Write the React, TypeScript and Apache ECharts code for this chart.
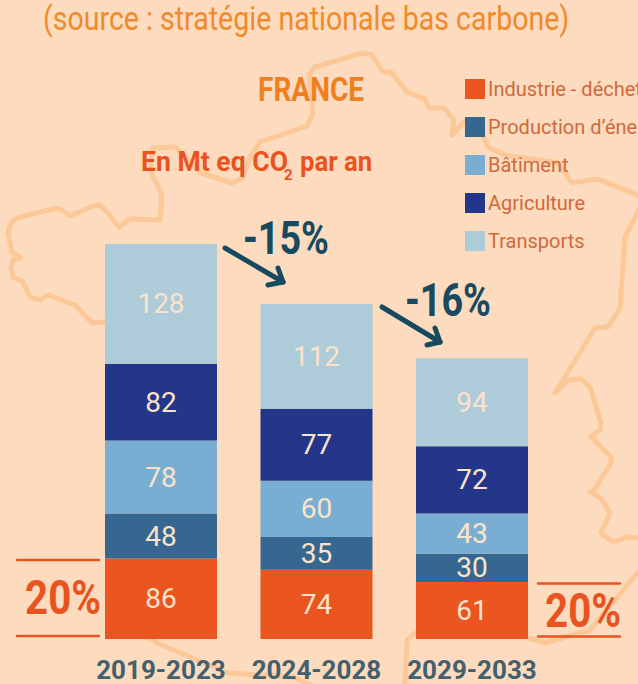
import React, { useEffect, useRef } from "react";
import * as echarts from "echarts";

const categories = ["2019-2023", "2024-2028", "2029-2033"];
const industrie = [86, 74, 61];
const production = [48, 35, 30];
const batiment = [78, 60, 43];
const agriculture = [82, 77, 72];
const transports = [128, 112, 94];
const seriesNames = ["Industrie - déchets", "Production d’énergie", "Bâtiment", "Agriculture", "Transports"];
const colors = ["#ea5520", "#356791", "#79aed2", "#233689", "#aecbda"];

const mapMain = [[313,686],[293,677],[228,673],[157,643],[151,639],[105,622]];
const mapWest = [[105,322],[93,323],[87,318],[75,305],[48,295],[40,300],[30,297],[23,282],[13,277],[11,268],[13,260],[21,258],[12,252],[8,233],[11,223],[17,218],[57,208],[63,211],[70,216],[93,206],[100,205],[107,212],[119,227],[130,219],[160,220],[162,195],[150,170],[153,148],[175,147],[201,173],[232,183],[243,178],[250,157],[260,142],[307,126],[313,113],[309,75],[315,67],[362,53],[372,55],[383,72],[391,72],[407,92],[425,99],[429,108],[444,108],[454,120],[452,135],[464,122],[484,137],[488,147],[505,155],[558,163],[572,183],[598,179],[640,196]];
const mapEast = [[640,208],[625,237],[620,308],[608,327],[595,328],[555,393],[568,380],[581,379],[590,387],[601,423],[600,430],[591,437],[611,457],[611,463],[593,492],[590,492],[601,498],[610,513],[601,533],[613,542],[628,537],[640,538]];
const mapSouth = [[640,570],[590,630],[545,643],[528,638]];
const mapCenter = [[416,632],[407,640],[405,686]];

const FONT = 'Roboto, sans-serif';

function txt(text: string, x: number, y: number, size: number, color: string, bold = false, sx = 1) {
  return { type: "text", x, y, scaleX: sx, z: 50, style: { text, fill: color, fontFamily: FONT, fontSize: size, fontWeight: bold ? 700 : 400, textAlign: "left", textVerticalAlign: "middle" } };
}
function line(x1: number, y1: number, x2: number, y2: number, c: string, w: number) {
  return { type: "line", z: 50, shape: { x1, y1, x2, y2 }, style: { stroke: c, lineWidth: w, lineCap: "round" } };
}
function map(points: number[][]) {
  return { type: "polyline", z: 0, shape: { points }, style: { stroke: "#fcc898", lineWidth: 5, fill: "none", lineJoin: "round" } };
}

export default function App() {
  const ref = useRef<HTMLDivElement>(null);
  useEffect(() => {
    document.body.style.margin = "0";
    const chart = echarts.init(ref.current!, undefined, { renderer: "svg" });
    const values = [industrie, production, batiment, agriculture, transports];
    const teal = "#17495f";
    const red = "#e9531f";
    chart.setOption({
      animation: false,
      backgroundColor: "#fddbbe",
      grid: { left: 83.25, right: 88.25, top: 244, bottom: 45 },
      xAxis: {
        type: "category",
        data: categories,
        axisLine: { show: false },
        axisTick: { show: false },
        axisLabel: { color: "#42606f", fontFamily: FONT, fontWeight: 700, fontSize: 26, margin: 18, interval: 0, hideOverlap: false },
      },
      yAxis: { type: "value", min: 0, max: 422, show: false, splitLine: { show: false } },
      legend: {
        left: 465,
        top: 79,
        padding: 0,
        orient: "vertical",
        itemWidth: 20,
        itemHeight: 20,
        itemGap: 18,
        icon: "rect",
        selectedMode: false,
        textStyle: { color: "#cf6a3d", fontFamily: FONT, fontSize: 20, lineHeight: 20, padding: [0, 0, 0, -2] },
        data: seriesNames,
      },
      series: seriesNames.map((name, i) => ({
        name,
        type: "bar",
        stack: "total",
        barWidth: 112,
        z: 5,
        data: values[i],
        itemStyle: { color: colors[i] },
        label: { show: true, position: "inside", color: "#fbe3cb", fontFamily: FONT, fontSize: 28 },
      })),
      graphic: [
        map(mapMain), map(mapWest), map(mapEast), map(mapSouth), map(mapCenter),
        txt("(source : stratégie nationale bas carbone)", 43, 19, 33, "#f08a2a", false, 0.865),
        txt("FRANCE", 258, 90, 33, "#f0801f", true, 0.85),
        txt("En Mt eq CO", 141, 162, 28, red, true, 0.95),
        txt("2", 284, 175, 15, red, true),
        txt("par an", 300, 162, 28, red, true, 0.92),
        txt("-15%", 243, 238, 46, teal, true, 0.82),
        txt("-16%", 405, 300, 46, teal, true, 0.82),
        line(225, 248, 283, 282, teal, 5), line(268, 285, 283, 282, teal, 5), line(278, 268, 283, 282, teal, 5),
        line(382, 307, 440, 342, teal, 5), line(427, 345, 440, 342, teal, 5), line(435, 328, 440, 342, teal, 5),
        txt("20%", 25, 598, 48, red, true, 0.84),
        txt("20%", 545, 611, 48, red, true, 0.84),
        line(17, 560, 99, 560, red, 2.5), line(17, 636, 99, 636, red, 2.5),
        line(538, 583.5, 620, 583.5, red, 2.5), line(538, 636.5, 620, 636.5, red, 2.5),
      ],
    });
    return () => chart.dispose();
  }, []);
  return <div ref={ref} style={{ position: "absolute", left: 0, top: 0, width: 638, height: 684, overflow: "hidden" }} />;
}
